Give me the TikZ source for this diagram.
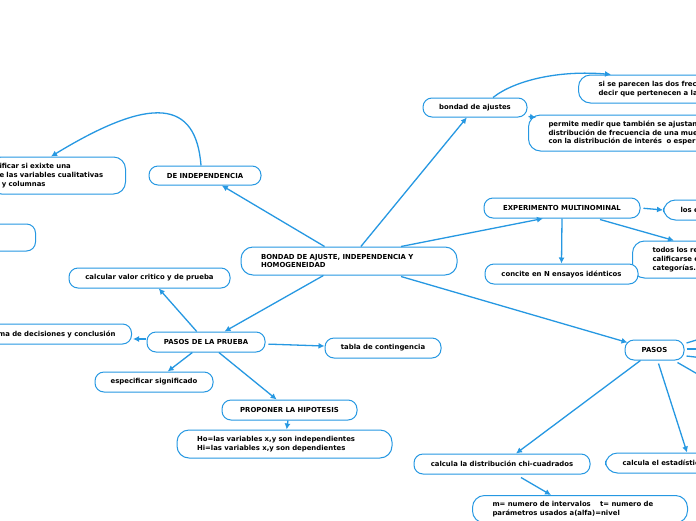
\documentclass[tikz,border=0pt]{standalone}
\usepackage{fontspec}
\setmainfont{DejaVu Sans}
\usetikzlibrary{arrows.meta,calc}
\definecolor{mapblue}{RGB}{38,152,226}
\begin{document}
\begin{tikzpicture}[x=1pt,y=-1pt]
\tikzstyle{every node}+=[inner sep=0pt,font=\fontsize{6.9}{8.7}\selectfont\bfseries]
\tikzstyle{topic}=[draw=mapblue,line width=1pt,rounded corners=9pt,fill=white,minimum height=20pt,align=center]
\tikzstyle{multi}=[topic,rounded corners=12pt,inner xsep=20pt,align=left]
\tikzstyle{conn}=[draw=mapblue,line width=1.3pt,-{Latex[length=6pt,width=6pt]}]
\tikzstyle{stub}=[draw=mapblue,line width=1.3pt]
\clip (0,0) rectangle (696,520);
\fill[white] (0,0) rectangle (696,520);
\node[multi,text width=176pt,minimum height=28pt] (c) at (349,261) {BONDAD DE AJUSTE, INDEPENDENCIA Y\\HOMOGENEIDAD};
\node[topic,minimum width=112pt,minimum height=19pt] (dep) at (205,175.5) {DE INDEPENDENCIA};
\node[multi,anchor=east,inner xsep=10pt,text width=116pt,minimum height=37pt] (rel) at (126,175.5) {ificar si exixte una\\e las variables cualitativas\\\ y columnas};
\node[topic,anchor=east,minimum width=80pt,minimum height=27pt] (emp) at (36,237.5) {};
\node[topic,minimum width=161pt] (cvc) at (149.5,278) {calcular valor critico y de prueba};
\node[topic,anchor=east,inner xsep=16pt,text width=130pt,align=right] (dec) at (132,334) {ma de decisiones y conclusión};
\node[topic,minimum width=118pt] (pp) at (206,342) {PASOS DE LA PRUEBA};
\node[topic,minimum width=118pt] (esp) at (154,382) {especificar significado};
\node[topic,minimum width=116pt] (tab) at (383,348) {tabla de contingencia};
\node[topic,minimum width=135pt] (prop) at (289.5,410) {PROPONER LA HIPOTESIS};
\node[multi,text width=175pt,minimum height=28pt] (hyp) at (284.5,444) {Ho=las variables x,y son independientes\\Hi=las variables x,y son dependientes};
\node[topic,minimum width=104pt,minimum height=19pt] (baj) at (475,107.5) {bondad de ajustes};
\node[multi,anchor=west,text width=140pt,minimum height=28pt] (par) at (578,89) {si se parecen las dos frec\\decir que pertenecen a la};
\node[multi,anchor=west,text width=200pt,minimum height=36pt] (per) at (528,133) {permite medir que también se ajustan\\distribución de frecuencia de una mue\\con la distribución de interés~ o esper};
\node[topic,minimum width=156pt] (exp) at (562,208) {EXPERIMENTO MULTINOMINAL};
\node[multi,anchor=west,inner xsep=17pt,text width=60pt] (lse) at (663,210) {los e};
\node[multi,anchor=west,text width=100pt,minimum height=37pt] (tod) at (632,259.5) {todos los re\\calificarse e\\categorías.};
\node[topic,minimum width=153pt] (con) at (561.5,274) {concite en N ensayos idénticos};
\node[topic,minimum width=59pt] (pas) at (654.5,350) {PASOS};
\node[topic,minimum width=176pt] (chi) at (502,464) {calcula la distribución chi-cuadrados};
\node[multi,anchor=west,inner xsep=17pt,text width=100pt] (est) at (605,463) {calcula el estadístic};
\node[multi,anchor=north west,inner ysep=6pt,text width=175pt] (mnu) at (472,495) {m= numero de intervalos\hspace{7pt} t= numero de\\parámetros usados a(alfa)=nivel};
\coordinate (o1) at (720,333);
\coordinate (o2) at (720,349);
\coordinate (o3) at (720,360);
\coordinate (o4) at (720,387);
\draw[conn] (c) -- (dep);
\draw[conn] ($(dep.north)+(-4,0)$) .. controls (196,100) and (152,95) .. ($(rel.north west)+(62,0)$);
\draw[conn] (c) -- (baj);
\draw[conn] ($(baj.north)+(18,0)$) .. controls (515,80) and (560,70) .. ($(par.north west)+(33,0)$);
\draw[conn] ($(baj.south east)+(1,-1)$) -- ($(per.north west)+(8,3)$);
\draw[conn] ($(c.north)+(52,0)$) -- ($(exp.south)+(-19,0)$);
\draw[conn,shorten <=3pt] (exp.east) -- (lse.west);
\draw[conn] ($(exp.south)+(38,1)$) -- ($(tod.north west)+(42,0)$);
\draw[conn] (exp.south) -- (con.north);
\draw[conn] ($(c.south)+(52,1)$) -- ($(pas.north west)+(3,3)$);
\draw[conn] (c) -- (pp);
\draw[conn] (pp) -- (cvc);
\draw[conn] ($(pp.west)+(-1,-3)$) -- ($(dec.east)+(1,5)$);
\draw[conn] (pp) -- (esp);
\draw[conn] (pp) -- (prop);
\draw[conn,shorten <=3pt] (pp) -- (tab);
\draw[conn] (prop) -- (hyp);
\draw[conn] (pas) -- (chi);
\draw[conn] ($(pas.south)+(4,3)$) -- ($(est.north west)+(82,0)$);
\draw[conn] ($(chi.south)+(19,3)$) -- ($(mnu.north west)+(79,0)$);
\draw[stub] ($(pas.east)+(2,-7)$) -- (o1);
\draw[stub] ($(pas.east)+(2,-1)$) -- (o2);
\draw[stub] ($(pas.east)+(2,6)$) -- (o3);
\draw[stub] ($(pas.south east)+(-7,2)$) -- (o4);
\end{tikzpicture}
\end{document}
